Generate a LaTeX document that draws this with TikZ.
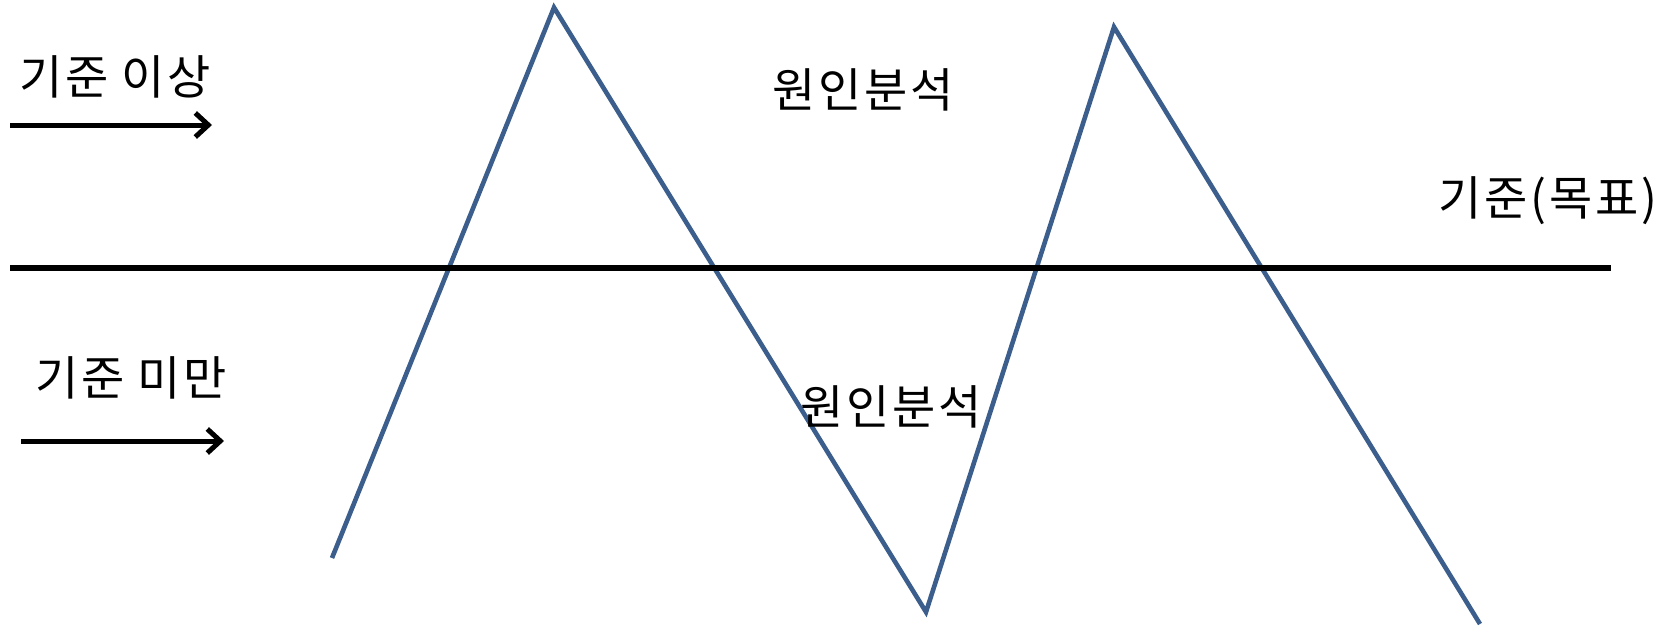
\documentclass[tikz,border=0pt]{standalone}
\usepackage{fontspec}
\setmainfont{Noto Sans CJK KR}[LetterSpace=6]
\usetikzlibrary{arrows.meta}
\definecolor{zig}{RGB}{59,94,140}
\tikzset{
  lbl/.style={inner sep=0pt, font=\fontsize{47}{52}\selectfont},
  zigline/.style={draw=zig, line width=4.6pt, line join=miter},
  base/.style={draw=black, line width=5.5pt},
  dirarrow/.style={draw=black, line width=5pt, -{Straight Barb[length=13pt, width=24pt, line width=5pt]}}
}
\begin{document}
\begin{tikzpicture}[x=1pt,y=-1pt]
\useasboundingbox (0,0) rectangle (1676,627);
% zigzag
\coordinate (z0) at (332,558);
\coordinate (z1) at (554,7.5);
\coordinate (z2) at (926,612);
\coordinate (z3) at (1114,27);
\coordinate (z4) at (1480,624);
\draw[zigline] (z0) -- (z1) -- (z2) -- (z3) -- (z4);
% baseline
\coordinate (b0) at (10,268);
\coordinate (b1) at (1611,268);
\draw[base] (b0) -- (b1);
% arrows
\coordinate (a0) at (10,125);
\coordinate (a1) at (212,125);
\draw[dirarrow] (a0) -- (a1);
\coordinate (c0) at (21,441);
\coordinate (c1) at (224,441);
\draw[dirarrow] (c0) -- (c1);
% labels
\node[lbl] (above) at (115,77) {기준 이상};
\node[lbl] (below) at (131,378) {기준 미만};
\node[lbl] (target) at (1548,201) {기준(목표)};
\node[lbl] (cause1) at (863,90) {원인분석};
\node[lbl] (cause2) at (891,407) {원인분석};
\end{tikzpicture}
\end{document}
